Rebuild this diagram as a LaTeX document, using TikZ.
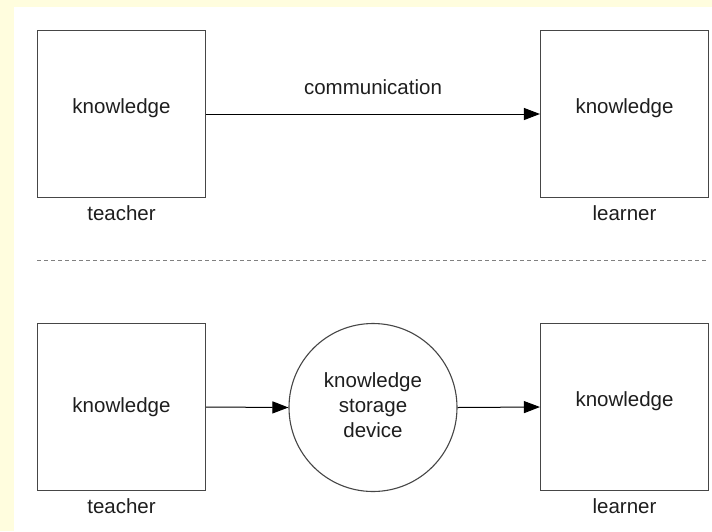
\documentclass[tikz,border=0pt]{standalone}
\usepackage{fontspec}
\setmainfont{Liberation Sans}
\usetikzlibrary{arrows.meta}
\definecolor{bgyellow}{RGB}{255,253,222}
\definecolor{linec}{RGB}{70,70,70}
\definecolor{textc}{RGB}{30,30,30}
\begin{document}
\begin{tikzpicture}[x=1pt,y=-1pt,
  box/.style={draw=linec,line width=1.1pt,minimum width=168pt,minimum height=167pt,inner sep=0pt},
  lbl/.style={text=textc,font=\fontsize{20.5}{24}\selectfont,inner sep=0pt},
  conn/.style={draw=black,line width=1pt,-{Triangle[length=16pt,width=12pt]}},
  every node/.style={text=textc,font=\fontsize{20.5}{24}\selectfont}]
\fill[bgyellow] (0,0) rectangle (712,531);
\fill[white] (14,7) rectangle (712,531);
\useasboundingbox (0,0) rectangle (712,531);
% top row
\node[box] (t1) at (121.5,114) {};
\node[lbl] (t1k) at (121.5,108) {knowledge};
\node[lbl] (t1l) at (121.5,213) {teacher};
\node[box] (l1) at (624.5,114) {};
\node[lbl] (l1k) at (624.5,108) {knowledge};
\node[lbl] (l1l) at (624.5,213) {learner};
\draw[conn] (t1.east) -- (l1.west);
\node[lbl] (comm) at (373,87) {communication};
% separator
\coordinate (s1) at (37,260);
\coordinate (s2) at (706,260);
\draw[gray,line width=0.8pt,dash pattern=on 4pt off 3pt] (s1) -- (s2);
% bottom row
\node[box] (t2) at (121.5,407) {};
\node[lbl] (t2k) at (121.5,407) {knowledge};
\node[lbl] (t2l) at (121.5,506) {teacher};
\node[box] (l2) at (624.5,407) {};
\node[lbl] (l2k) at (624.5,401) {knowledge};
\node[lbl] (l2l) at (624.5,506) {learner};
\node[draw=linec,line width=1.1pt,circle,minimum size=168pt,inner sep=0pt] (dev) at (373,407.5) {};
\node[lbl,align=center,font=\fontsize{20.5}{25}\selectfont] (devt) at (373,405) {knowledge\\storage\\device};
\draw[conn] (t2.east) -- (dev.west);
\draw[conn] (dev.east) -- (l2.west);
\end{tikzpicture}
\end{document}
